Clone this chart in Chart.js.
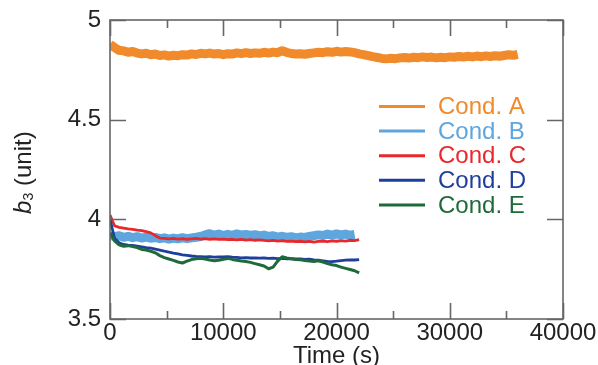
<!DOCTYPE html>
<html>
<head>
<meta charset="utf-8">
<script src="https://cdn.jsdelivr.net/npm/chart.js@4.4.1/dist/chart.umd.min.js"></script>
<style>
  html, body { margin: 0; padding: 0; background: #fff; overflow: hidden; }
  canvas { display: block; }
</style>
</head>
<body>
<canvas id="chart" width="598" height="365"></canvas>
<script>
// Logged b3 values, one sample every SAMPLE_STEP seconds starting at t = 0.
const SAMPLE_STEP = 400;

const seriesNames = ['Cond. A', 'Cond. B', 'Cond. C', 'Cond. D', 'Cond. E'];

const condA = [
  4.878, 4.862, 4.848, 4.845, 4.838, 4.842, 4.834, 4.830, 4.833, 4.826,
  4.829, 4.822, 4.825, 4.819, 4.823, 4.821, 4.826, 4.824, 4.830, 4.827,
  4.833, 4.830, 4.834, 4.829, 4.832, 4.826, 4.831, 4.829, 4.835, 4.831,
  4.836, 4.832, 4.835, 4.833, 4.838, 4.834, 4.839, 4.836, 4.846, 4.838,
  4.832, 4.829, 4.831, 4.828, 4.832, 4.835, 4.838, 4.836, 4.841, 4.838,
  4.843, 4.839, 4.842, 4.840, 4.836, 4.830, 4.826, 4.821, 4.816, 4.812,
  4.807, 4.805, 4.808, 4.806, 4.810, 4.812, 4.809, 4.813, 4.811, 4.815,
  4.812, 4.814, 4.810, 4.813, 4.811, 4.815, 4.813, 4.817, 4.814, 4.818,
  4.815, 4.819, 4.816, 4.820, 4.817, 4.821, 4.818, 4.822, 4.826, 4.823,
  4.828
];

const condB = [
  3.925, 3.912, 3.918, 3.910, 3.915, 3.908, 3.913, 3.906, 3.911, 3.905,
  3.909, 3.903, 3.907, 3.901, 3.906, 3.902, 3.908, 3.903, 3.907, 3.910,
  3.914, 3.922, 3.928, 3.921, 3.926, 3.919, 3.925, 3.920, 3.927, 3.921,
  3.924, 3.919, 3.923, 3.917, 3.921, 3.914, 3.918, 3.911, 3.915, 3.909,
  3.913, 3.907, 3.911, 3.909, 3.914, 3.918, 3.922, 3.919, 3.926, 3.921,
  3.927, 3.922, 3.926, 3.920, 3.924
];

const condC = [
  4.022, 3.968, 3.960, 3.956, 3.952, 3.950, 3.946, 3.943, 3.938, 3.932,
  3.918, 3.906, 3.904, 3.902, 3.905, 3.901, 3.903, 3.900, 3.902, 3.904,
  3.901, 3.903, 3.900, 3.902, 3.899, 3.901, 3.898, 3.900, 3.897, 3.899,
  3.896, 3.898, 3.895, 3.897, 3.894, 3.892, 3.894, 3.891, 3.893, 3.889,
  3.891, 3.888, 3.890, 3.887, 3.889, 3.886, 3.889, 3.891, 3.888, 3.892,
  3.890, 3.893, 3.891, 3.895, 3.893, 3.898
];

const condD = [
  4.000, 3.905, 3.882, 3.874, 3.871, 3.869, 3.866, 3.862, 3.858, 3.855,
  3.850, 3.845, 3.840, 3.836, 3.831, 3.827, 3.822, 3.819, 3.816, 3.814,
  3.813, 3.811, 3.813, 3.810, 3.812, 3.811, 3.813, 3.810, 3.809, 3.807,
  3.808, 3.806, 3.807, 3.805, 3.806, 3.804, 3.805, 3.803, 3.804, 3.802,
  3.803, 3.801, 3.802, 3.799, 3.800, 3.797, 3.795, 3.792, 3.789, 3.788,
  3.790, 3.793, 3.795, 3.797, 3.796, 3.798
];

const condE = [
  3.933, 3.892, 3.872, 3.865, 3.868, 3.864, 3.858, 3.849, 3.846, 3.840,
  3.832, 3.818, 3.808, 3.801, 3.794, 3.786, 3.781, 3.790, 3.798, 3.802,
  3.805, 3.801, 3.796, 3.792, 3.795, 3.800, 3.804, 3.799, 3.795, 3.791,
  3.788, 3.784, 3.778, 3.772, 3.766, 3.752, 3.760, 3.790, 3.812, 3.806,
  3.802, 3.799, 3.797, 3.794, 3.791, 3.789, 3.792, 3.785, 3.778, 3.772,
  3.768, 3.760, 3.754, 3.748, 3.742, 3.731
];

const xTicks = [0, 10000, 20000, 30000, 40000];
const xMinorTicks = [5000, 15000, 25000, 35000];
const yTicks = [3.5, 4, 4.5, 5];

// Styling per series
const seriesColors = ['#F08A2A', '#5FA6DE', '#E8282C', '#1E3F9C', '#1F6A3A'];
const seriesWidths = [9, 9, 2.8, 2.8, 3];

const FONT = '"Liberation Sans", Arial, Helvetica, sans-serif';
const TEXT = '#222222';
const FRAME = '#666666';

const allSeries = [condA, condB, condC, condD, condE];

function toPoints(values) {
  return values.map((v, i) => ({ x: i * SAMPLE_STEP, y: v }));
}

const datasets = allSeries.map((vals, i) => ({
  label: seriesNames[i],
  data: toPoints(vals),
  borderColor: seriesColors[i],
  backgroundColor: seriesColors[i],
  borderWidth: seriesWidths[i],
  pointRadius: 0,
  tension: 0,
  fill: false,
  borderJoinStyle: 'round',
  order: allSeries.length - i   // later series painted on top
}));

// Closed frame with inward tick marks on all four sides
const axisFrame = {
  id: 'axisFrame',
  afterDatasetsDraw(chart) {
    const { ctx, chartArea: { left, right, top, bottom }, scales: { x, y } } = chart;
    ctx.save();
    ctx.strokeStyle = FRAME;
    ctx.lineWidth = 1.6;
    ctx.strokeRect(left, top, right - left, bottom - top);
    ctx.beginPath();
    xTicks.forEach(v => {
      const px = Math.round(x.getPixelForValue(v)) + 0.5;
      ctx.moveTo(px, bottom); ctx.lineTo(px, bottom - 16);
      ctx.moveTo(px, top); ctx.lineTo(px, top + 16);
    });
    xMinorTicks.forEach(v => {
      const px = Math.round(x.getPixelForValue(v)) + 0.5;
      ctx.moveTo(px, bottom); ctx.lineTo(px, bottom - 8);
      ctx.moveTo(px, top); ctx.lineTo(px, top + 8);
    });
    yTicks.forEach(v => {
      const py = Math.round(y.getPixelForValue(v)) + 0.5;
      ctx.moveTo(left, py); ctx.lineTo(left + 16, py);
      ctx.moveTo(right, py); ctx.lineTo(right - 16, py);
    });
    ctx.stroke();
    ctx.restore();
  }
};

// Line-sample legend with coloured labels inside the plot
const lineLegend = {
  id: 'lineLegend',
  afterDatasetsDraw(chart) {
    const { ctx } = chart;
    ctx.save();
    ctx.font = '24px ' + FONT;
    ctx.textBaseline = 'middle';
    ctx.textAlign = 'left';
    chart.data.datasets.forEach((ds, i) => {
      const yy = 106.5 + i * 24.6;
      ctx.strokeStyle = ds.borderColor;
      ctx.lineWidth = 3;
      ctx.beginPath();
      ctx.moveTo(379, yy);
      ctx.lineTo(425, yy);
      ctx.stroke();
      ctx.fillStyle = ds.borderColor;
      ctx.fillText(ds.label, 438, yy + 1);
    });
    ctx.restore();
  }
};

// Vertical axis title with italic symbol and subscript
const yTitle = {
  id: 'yTitle',
  afterDraw(chart) {
    const { ctx } = chart;
    ctx.save();
    ctx.translate(31, 173);
    ctx.rotate(-Math.PI / 2);
    ctx.fillStyle = TEXT;
    ctx.textBaseline = 'alphabetic';
    ctx.textAlign = 'left';
    ctx.font = 'italic 24px ' + FONT;
    ctx.fillText('b', -41, 0);
    ctx.font = '14px ' + FONT;
    ctx.fillText('3', -27.5, 2);
    ctx.font = '24px ' + FONT;
    ctx.fillText('(unit)', -13, 0);
    ctx.restore();
  }
};

new Chart(document.getElementById('chart'), {
  type: 'line',
  data: { datasets },
  options: {
    responsive: false,
    animation: false,
    devicePixelRatio: 1,
    layout: { padding: { left: 0, right: 35, top: 20, bottom: 0 } },
    plugins: {
      legend: { display: false },
      tooltip: { enabled: false }
    },
    scales: {
      x: {
        type: 'linear',
        min: 0,
        max: 40000,
        grid: { display: false, drawTicks: false },
        border: { display: false },
        afterBuildTicks: s => { s.ticks = xTicks.map(v => ({ value: v })); },
        afterFit: s => { s.height = 46; s.paddingLeft = 0; s.paddingRight = 0; },
        ticks: {
          autoSkip: false,
          maxRotation: 0,
          padding: 0,
          color: TEXT,
          font: { family: FONT, size: 24 },
          callback: v => String(v)
        },
        title: {
          display: true,
          text: 'Time (s)',
          color: TEXT,
          font: { family: FONT, size: 24 },
          padding: { top: 0, bottom: -6 }
        }
      },
      y: {
        type: 'linear',
        min: 3.5,
        max: 5,
        grid: { display: false, drawTicks: false },
        border: { display: false },
        afterBuildTicks: s => { s.ticks = yTicks.map(v => ({ value: v })); },
        afterFit: s => { s.width = 110; s.paddingTop = 0; s.paddingBottom = 0; },
        ticks: {
          autoSkip: false,
          padding: 9,
          color: TEXT,
          font: { family: FONT, size: 24 },
          callback: v => String(v)
        }
      }
    }
  },
  plugins: [axisFrame, lineLegend, yTitle]
});
</script>
</body>
</html>
